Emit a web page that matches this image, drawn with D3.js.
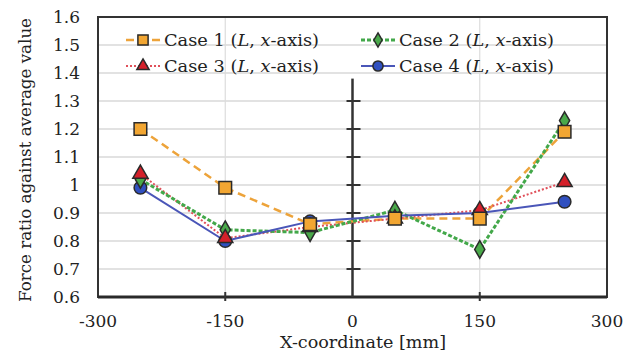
<!DOCTYPE html>
<html>
<head>
<meta charset="utf-8">
<script src="https://cdn.jsdelivr.net/npm/d3@7"></script>
<style>
  body { margin: 0; background: #fff; }
</style>
</head>
<body>
<svg id="chart" width="638" height="354" font-family="'DejaVu Serif', 'Liberation Serif', serif" fill="#222"></svg>
<script>
// x positions [mm]
const xCoords = [-250, -150, -50, 50, 150, 250];

// force ratio against average value
const case1 = [1.20, 0.99, 0.86, 0.88, 0.88, 1.19];
const case2 = [1.02, 0.84, 0.83, 0.91, 0.77, 1.23];
const case3 = [1.04, 0.81, 0.85, 0.88, 0.91, 1.01];
const case4 = [0.99, 0.80, 0.87, 0.89, 0.90, 0.94];

const xTicks = [-300, -150, 0, 150, 300];
const yTicks = [0.6, 0.7, 0.8, 0.9, 1, 1.1, 1.2, 1.3, 1.4, 1.5, 1.6];

const svg = d3.select('#chart');

const plot = { left: 98, right: 607, top: 17, bottom: 297 };

const scaleX = d3.scaleLinear().domain([-300, 300]).range([plot.left, plot.right]);
const scaleY = d3.scaleLinear().domain([0.6, 1.6]).range([plot.bottom, plot.top]);

// grid
const grid = svg.append('g');
grid.selectAll('line.h')
  .data(yTicks.slice(1, -1))
  .enter().append('line')
    .attr('x1', plot.left).attr('x2', plot.right)
    .attr('y1', d => scaleY(d)).attr('y2', d => scaleY(d))
    .attr('stroke', '#d8d8d8').attr('stroke-width', 1.5);
grid.selectAll('line.v')
  .data([-150, 150])
  .enter().append('line')
    .attr('x1', d => scaleX(d)).attr('x2', d => scaleX(d))
    .attr('y1', plot.top).attr('y2', plot.bottom)
    .attr('stroke', '#dcdcdc').attr('stroke-width', 1.2);

// frame
svg.append('rect')
  .attr('x', plot.left).attr('y', plot.top)
  .attr('width', plot.right - plot.left).attr('height', plot.bottom - plot.top)
  .attr('fill', 'none').attr('stroke', '#333').attr('stroke-width', 2);
svg.append('line')
  .attr('x1', plot.left).attr('x2', plot.right)
  .attr('y1', plot.bottom).attr('y2', plot.bottom)
  .attr('stroke', '#2a2a2a').attr('stroke-width', 3);

// y axis through x = 0
svg.append('line')
  .attr('x1', scaleX(0)).attr('x2', scaleX(0))
  .attr('y1', plot.bottom).attr('y2', scaleY(1.38))
  .attr('stroke', '#333').attr('stroke-width', 2.5);
svg.append('g').selectAll('line')
  .data(yTicks.filter(d => d > 0.6 && d < 1.35))
  .enter().append('line')
    .attr('x1', scaleX(0) - 6).attr('x2', scaleX(0) + 8)
    .attr('y1', d => scaleY(d)).attr('y2', d => scaleY(d))
    .attr('stroke', '#333').attr('stroke-width', 2);

// bottom ticks
svg.append('g').selectAll('line')
  .data([-150, 150])
  .enter().append('line')
    .attr('x1', d => scaleX(d)).attr('x2', d => scaleX(d))
    .attr('y1', plot.bottom - 5).attr('y2', plot.bottom + 4)
    .attr('stroke', '#333').attr('stroke-width', 2);

// tick labels
svg.append('g').selectAll('text')
  .data(yTicks)
  .enter().append('text')
    .attr('x', 80).attr('y', d => scaleY(d))
    .attr('dy', '0.35em')
    .attr('text-anchor', 'end')
    .style('font-size', '17px')
    .text(d => d3.format('')(d));

svg.append('g').selectAll('text')
  .data(xTicks)
  .enter().append('text')
    .attr('x', d => scaleX(d)).attr('y', 321)
    .attr('dy', '0.35em')
    .attr('text-anchor', 'middle')
    .style('font-size', '17px')
    .text(d => d);

svg.append('text')
  .attr('x', 363).attr('y', 342)
  .attr('dy', '0.35em')
  .attr('text-anchor', 'middle')
  .attr('textLength', 166)
  .attr('lengthAdjust', 'spacingAndGlyphs')
  .style('font-size', '17px')
  .text('X-coordinate [mm]');

svg.append('text')
  .attr('transform', 'translate(25,160) rotate(-90)')
  .attr('dy', '0.35em')
  .attr('text-anchor', 'middle')
  .attr('textLength', 284)
  .attr('lengthAdjust', 'spacingAndGlyphs')
  .style('font-size', '16px')
  .text('Force ratio against average value');

// series
const series = [
  { name: 'Case 1', values: case1, line: '#eda33a', dash: '8,5', width: 2.5, marker: d3.symbolSquare, size: 160, fill: '#f2a632' },
  { name: 'Case 2', values: case2, line: '#43a84a', dash: '4,2', width: 3, marker: d3.symbolDiamond, size: 90, fill: '#4aa94a' },
  { name: 'Case 3', values: case3, line: '#e0505a', dash: '2,2', width: 2, marker: d3.symbolTriangle, size: 100, fill: '#d4202a' },
  { name: 'Case 4', values: case4, line: '#4a56b8', dash: null, width: 2, marker: d3.symbolCircle, size: 125, fill: '#3050c0' }
];

const line = d3.line()
  .x((d, i) => scaleX(xCoords[i]))
  .y(d => scaleY(d));

[0, 2, 1, 3].forEach(k => {
  const s = series[k];
  svg.append('path')
    .datum(s.values)
    .attr('fill', 'none')
    .attr('stroke', s.line)
    .attr('stroke-width', s.width)
    .attr('stroke-dasharray', s.dash)
    .attr('d', line);
});
[3, 1, 2, 0].forEach(k => {
  const s = series[k];
  svg.append('g').selectAll('path')
    .data(s.values)
    .enter().append('path')
      .attr('transform', (d, i) => 'translate(' + scaleX(xCoords[i]) + ',' + scaleY(d) + ')')
      .attr('d', d3.symbol().type(s.marker).size(s.size))
      .attr('fill', s.fill)
      .attr('stroke', '#2a2a2a')
      .attr('stroke-width', 1.5);
});

// legend
const legendPos = [
  { k: 0, x: 143, y: 40 },
  { k: 1, x: 378, y: 40 },
  { k: 2, x: 143, y: 66 },
  { k: 3, x: 378, y: 66 }
];
legendPos.forEach(p => {
  const s = series[p.k];
  const g = svg.append('g').attr('transform', 'translate(' + p.x + ',' + p.y + ')');
  g.append('line')
    .attr('x1', -17).attr('x2', 17)
    .attr('stroke', s.line).attr('stroke-width', s.width)
    .attr('stroke-dasharray', s.dash);
  g.append('path')
    .attr('d', d3.symbol().type(s.marker).size(s.size * 0.65))
    .attr('fill', s.fill).attr('stroke', '#2a2a2a').attr('stroke-width', 1.5);
  const t = g.append('text')
    .attr('x', 21).attr('dy', '0.35em')
    .attr('textLength', 155)
    .attr('lengthAdjust', 'spacingAndGlyphs')
    .style('font-size', '17px');
  t.append('tspan').text(s.name + ' (');
  t.append('tspan').style('font-style', 'italic').text('L');
  t.append('tspan').text(', ');
  t.append('tspan').style('font-style', 'italic').text('x');
  t.append('tspan').text('-axis)');
});
</script>
</body>
</html>
